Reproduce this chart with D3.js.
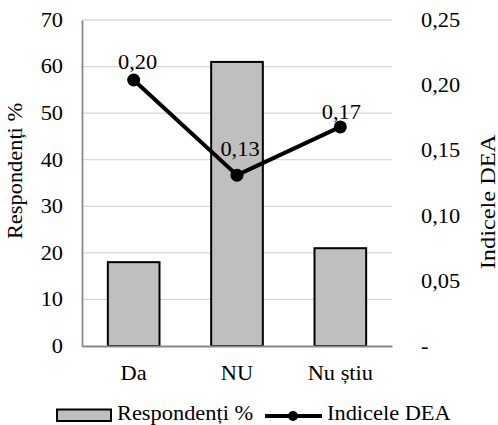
<!DOCTYPE html>
<html>
<head>
<meta charset="utf-8">
<script src="https://cdn.jsdelivr.net/npm/d3@7"></script>
<style>
  html, body { margin: 0; padding: 0; background: #fff; }
  svg { display: block; }
</style>
</head>
<body>
<svg id="chart" width="498" height="425"></svg>
<script>
// Survey answers, share of respondents and DEA index per answer
const categories = ["Da", "NU", "Nu știu"];
const respondents = [18, 61, 21];
const deaIndex = [0.204, 0.131, 0.168];
const leftTicks = [0, 10, 20, 30, 40, 50, 60, 70];
const rightTicks = [0, 0.05, 0.10, 0.15, 0.20, 0.25];
const seriesNames = ["Respondenți %", "Indicele DEA"];

// label nudges (dx, dy from the marker) for the DEA value labels
const labelNudge = [[4, -11], [3, -19], [1, -8]];

const svg = d3.select("#chart");
const m = { left: 82, right: 392, top: 20, bottom: 346 };
const FONT = '"Liberation Serif"';
const fs = 20;
const K = 1.12; // horizontal glyph widening

// widen a text horizontally in its own coordinate system
function widen(sel, k = K) {
  sel.each(function () {
    const t = d3.select(this);
    const x = +t.attr("x") || 0;
    const tr = t.attr("transform") || "";
    t.attr("x", x / k).attr("transform", `${tr} scale(${k},1)`);
  });
  return sel;
}
function styleText(sel) {
  return sel.attr("font-family", null).style("font-family", FONT)
    .style("font-size", fs + "px").attr("font-size", null).attr("fill", "#000");
}

const x = d3.scaleBand().domain(categories).range([m.left, m.right]).paddingInner(0.5).paddingOuter(0.25);
const yL = d3.scaleLinear().domain([0, 70]).range([m.bottom, m.top]);
const yR = d3.scaleLinear().domain([0, 0.25]).range([m.bottom, m.top]);
const comma = v => d3.format(".2f")(v).replace(".", ",");

// gridlines
svg.append("g").selectAll("line").data(leftTicks.filter(d => d > 0)).join("line")
  .attr("x1", m.left).attr("x2", m.right)
  .attr("y1", d => yL(d)).attr("y2", d => yL(d))
  .attr("stroke", "#d9d9d9").attr("stroke-width", 1.3);

// left axis
const gL = svg.append("g").attr("transform", `translate(${m.left},0)`)
  .call(d3.axisLeft(yL).tickValues(leftTicks).tickSize(0).tickPadding(19));
gL.attr("font-family", null).attr("font-size", null);
gL.select(".domain").attr("stroke", "#898989").attr("stroke-width", 1.8);
widen(styleText(gL.selectAll("text")));

// right axis
const gR = svg.append("g").attr("transform", `translate(${m.right},0)`)
  .call(d3.axisRight(yR).tickValues(rightTicks).tickSize(0).tickPadding(29)
    .tickFormat(d => d === 0 ? "-" : comma(d)));
gR.attr("font-family", null).attr("font-size", null);
gR.select(".domain").remove();
widen(styleText(gR.selectAll("text")));

// bars
svg.append("g").selectAll("rect").data(respondents).join("rect")
  .attr("x", (d, i) => x(categories[i]))
  .attr("width", x.bandwidth())
  .attr("y", d => yL(d))
  .attr("height", d => yL(0) - yL(d))
  .attr("fill", "#bfbfbf").attr("stroke", "#000").attr("stroke-width", 2);

// bottom axis
const gB = svg.append("g").attr("transform", `translate(0,${m.bottom})`)
  .call(d3.axisBottom(x).tickSize(0).tickPadding(20));
gB.attr("font-family", null).attr("font-size", null);
gB.select(".domain").attr("stroke", "#898989").attr("stroke-width", 1.8);
widen(styleText(gB.selectAll("text")));

// DEA line with markers
const cx = (d, i) => x(categories[i]) + x.bandwidth() / 2;
svg.append("path").datum(deaIndex)
  .attr("d", d3.line().x(cx).y(d => yR(d)))
  .attr("fill", "none").attr("stroke", "#000").attr("stroke-width", 4);
svg.append("g").selectAll("circle").data(deaIndex).join("circle")
  .attr("cx", cx).attr("cy", d => yR(d)).attr("r", 6.5).attr("fill", "#000");
svg.append("g").selectAll("text").data(deaIndex).join("text")
  .attr("transform", (d, i) => `translate(${cx(d, i) + labelNudge[i][0]},${yR(d) + labelNudge[i][1]}) scale(${K},1)`)
  .attr("text-anchor", "middle")
  .call(styleText)
  .text(d => comma(d));

// axis titles
svg.append("text").attr("transform", `translate(22,171) rotate(-90) scale(${K},1)`)
  .attr("text-anchor", "middle").call(styleText).text(seriesNames[0]);
svg.append("text").attr("transform", `translate(495,202) rotate(-90) scale(1.22,1)`)
  .attr("text-anchor", "middle").call(styleText).text(seriesNames[1]);

// legend
const lg = svg.append("g");
lg.append("rect").attr("x", 57).attr("y", 409.5).attr("width", 54).attr("height", 11.5)
  .attr("fill", "#bfbfbf").attr("stroke", "#000").attr("stroke-width", 2);
lg.append("text").attr("x", 117).attr("y", 420.5).call(styleText).call(widen).text(seriesNames[0]);
lg.append("line").attr("x1", 265).attr("x2", 322).attr("y1", 416).attr("y2", 416)
  .attr("stroke", "#000").attr("stroke-width", 4);
lg.append("circle").attr("cx", 293).attr("cy", 416).attr("r", 5).attr("fill", "#000");
lg.append("text").attr("x", 327).attr("y", 420.5).call(styleText).call(widen).text(seriesNames[1]);
</script>
</body>
</html>
